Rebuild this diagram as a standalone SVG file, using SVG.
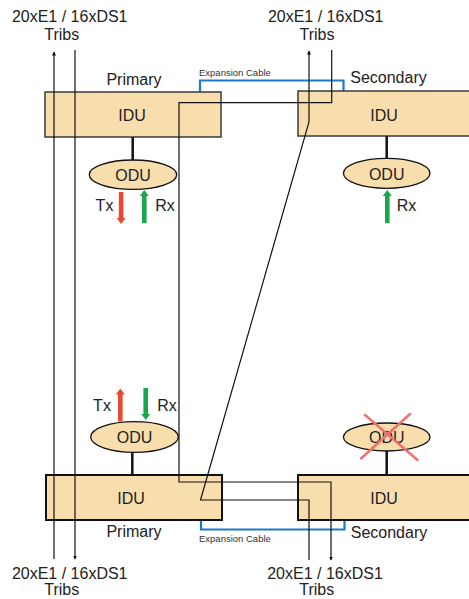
<svg xmlns="http://www.w3.org/2000/svg" width="469" height="599" viewBox="0 0 469 599">
  <style>
    text { font-family: "Liberation Sans", Arial, sans-serif; fill: #222; }
    .lbl { font-size: 16px; }
    .small { font-size: 9.5px; fill: #333; }
    .idu-top { fill: #F8DEAC; stroke: #3a3a3a; stroke-width: 1.5; }
    .idu-bot { fill: #F8DEAC; stroke: #111; stroke-width: 2; }
    .odu { fill: #F8DEAC; stroke: #111; stroke-width: 1.3; }
    .link { stroke: #111; stroke-width: 2.5; }
    .wire { fill: none; stroke: #111; stroke-width: 1.2; }
    .exp { fill: none; stroke: #1A7AC8; stroke-width: 2.2; }
    .tx { fill: #E84A2F; }
    .rx { fill: #17A84C; }
    .cross { stroke: #F07070; stroke-width: 2.5; stroke-linecap: round; }
  </style>
  <defs>
    <marker id="tip" viewBox="0 0 8 8" refX="7" refY="4" markerWidth="4" markerHeight="4" orient="auto" markerUnits="userSpaceOnUse">
      <path d="M0,0 L8,4 L0,8 Z" fill="#111"/>
    </marker>
  </defs>

  <!-- Expansion cables -->
  <g id="expansion-cables">
    <path class="exp" d="M200,92 V80.5 H343.5 V91"/>
    <text class="small" x="199" y="75.5">Expansion Cable</text>
    <path class="exp" d="M201,520 V529.5 H344.5 V520"/>
    <text class="small" x="199" y="541.5">Expansion Cable</text>
  </g>

  <!-- IDU units -->
  <g id="idu-primary-top">
    <rect class="idu-top" x="45" y="92" width="176" height="45"/>
    <text class="lbl" x="132" y="121" text-anchor="middle">IDU</text>
    <text class="lbl" x="134" y="85" text-anchor="middle">Primary</text>
  </g>
  <g id="idu-secondary-top">
    <rect class="idu-top" x="298" y="91" width="176" height="45"/>
    <text class="lbl" x="384" y="121" text-anchor="middle">IDU</text>
    <text class="lbl" x="388.5" y="83" text-anchor="middle">Secondary</text>
  </g>
  <g id="idu-primary-bottom">
    <rect class="idu-bot" x="46" y="475" width="176" height="45"/>
    <text class="lbl" x="131" y="504" text-anchor="middle">IDU</text>
    <text class="lbl" x="134" y="537" text-anchor="middle">Primary</text>
  </g>
  <g id="idu-secondary-bottom">
    <rect class="idu-bot" x="298" y="475" width="176" height="45"/>
    <text class="lbl" x="384" y="504" text-anchor="middle">IDU</text>
    <text class="lbl" x="389" y="537.5" text-anchor="middle">Secondary</text>
  </g>

  <!-- IDU to ODU links -->
  <g id="odu-links">
    <line class="link" x1="132.7" y1="137" x2="132.7" y2="160"/>
    <line class="link" x1="386.7" y1="136" x2="386.7" y2="158.5"/>
    <line class="link" x1="132.3" y1="452" x2="132.3" y2="475"/>
    <line class="link" x1="386.7" y1="451" x2="386.7" y2="475"/>
  </g>

  <!-- ODU units -->
  <g id="odu-primary-top">
    <ellipse class="odu" cx="133" cy="174.7" rx="43.7" ry="14.7"/>
    <text class="lbl" x="133" y="180.7" text-anchor="middle">ODU</text>
    <path class="tx" d="M118.8,192 H123.4 V218 H125.6 L121.1,224 L116.6,218 H118.8 Z"/>
    <path class="rx" d="M142,223 H146.6 V196 H148.8 L144.3,190 L139.8,196 H142 Z"/>
    <text class="lbl" x="104.5" y="211" text-anchor="middle">Tx</text>
    <text class="lbl" x="165" y="211" text-anchor="middle">Rx</text>
  </g>
  <g id="odu-secondary-top">
    <ellipse class="odu" cx="386.7" cy="173.3" rx="43.3" ry="15"/>
    <text class="lbl" x="386.7" y="179.5" text-anchor="middle">ODU</text>
    <path class="rx" d="M385,223 H389.6 V196 H391.8 L387.3,190 L382.8,196 H385 Z"/>
    <text class="lbl" x="406.5" y="211" text-anchor="middle">Rx</text>
  </g>
  <g id="odu-primary-bottom">
    <ellipse class="odu" cx="134.5" cy="437" rx="43.8" ry="15.3"/>
    <text class="lbl" x="134.5" y="443" text-anchor="middle">ODU</text>
    <path class="rx" d="M143.4,388 H148 V414 H150.2 L145.7,420 L141.2,414 H143.4 Z"/>
    <path class="tx" d="M118,421.5 H122.6 V394.5 H124.8 L120.3,388.5 L115.8,394.5 H118 Z"/>
    <text class="lbl" x="102" y="410.7" text-anchor="middle">Tx</text>
    <text class="lbl" x="167" y="410.7" text-anchor="middle">Rx</text>
  </g>
  <g id="odu-secondary-bottom">
    <ellipse class="odu" cx="386.7" cy="437" rx="43.3" ry="14"/>
    <text class="lbl" x="386.8" y="443" text-anchor="middle">ODU</text>
    <line class="cross" x1="365" y1="415" x2="417.5" y2="460"/>
    <line class="cross" x1="410" y1="414" x2="361" y2="458.5"/>
  </g>

  <!-- Tributary wiring -->
  <g id="connectors">
    <line class="wire" x1="54" y1="559" x2="54" y2="52" marker-end="url(#tip)" stroke="#444" stroke-width="1.5"/>
    <line class="wire" x1="75" y1="50" x2="75" y2="559" marker-end="url(#tip)"/>
    <polyline class="wire" points="331.7,50 331.7,102.7 179,102.7 179,482 331,482 331,560" marker-end="url(#tip)"/>
    <polyline class="wire" points="309,560 309,500 200.5,500 309,122 309,51" marker-end="url(#tip)"/>
  </g>

  <!-- Tributary labels -->
  <g id="trib-labels">
    <text class="lbl" x="69.7" y="22" text-anchor="middle">20xE1 / 16xDS1</text>
    <text class="lbl" x="61.7" y="40" text-anchor="middle">Tribs</text>
    <text class="lbl" x="325.7" y="22" text-anchor="middle">20xE1 / 16xDS1</text>
    <text class="lbl" x="317" y="40" text-anchor="middle">Tribs</text>
    <text class="lbl" x="69.7" y="578.5" text-anchor="middle">20xE1 / 16xDS1</text>
    <text class="lbl" x="61.7" y="595" text-anchor="middle">Tribs</text>
    <text class="lbl" x="325" y="578.5" text-anchor="middle">20xE1 / 16xDS1</text>
    <text class="lbl" x="316.7" y="595" text-anchor="middle">Tribs</text>
  </g>
</svg>
